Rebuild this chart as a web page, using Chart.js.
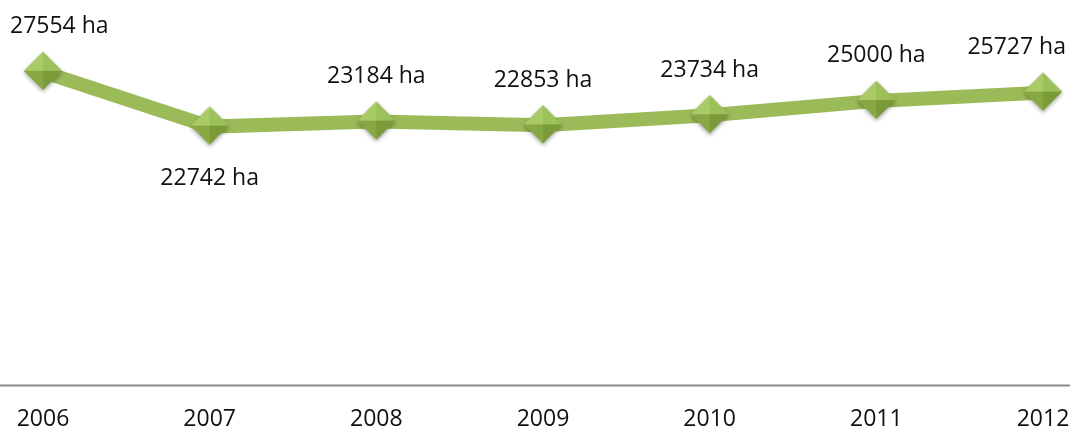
<!DOCTYPE html>
<html>
<head>
<meta charset="utf-8">
<script src="https://cdn.jsdelivr.net/npm/chart.js@4.4.0/dist/chart.umd.min.js"></script>
<style>
  body { margin: 0; background: #fff; }
  .chart-box { width: 1070px; height: 432px; position: relative; }
</style>
</head>
<body>
<div class="chart-box"><canvas id="myCourbe"></canvas></div>
<script>
const annees = ['2006', '2007', '2008', '2009', '2010', '2011', '2012'];
const surfaces = [27554, 22742, 23184, 22853, 23734, 25000, 25727];
const unite = ' ha';
// labels sous le point (sinon au-dessus)
const labelsDessous = [false, true, false, false, false, false, false];

const vert = '#9bbb59';
const police = '"Open Sans", sans-serif';

// losange avec relief (comme excel)
function makeDiamond(r) {
    const c = document.createElement('canvas');
    const s = r * 2 + 8;
    c.width = s;
    c.height = s;
    const ctx = c.getContext('2d');
    const cx = s / 2, cy = s / 2 - 1;
    ctx.save();
    ctx.shadowColor = 'rgba(0,0,0,0.35)';
    ctx.shadowBlur = 4;
    ctx.shadowOffsetY = 2;
    ctx.beginPath();
    ctx.moveTo(cx, cy - r);
    ctx.lineTo(cx + r, cy);
    ctx.lineTo(cx, cy + r);
    ctx.lineTo(cx - r, cy);
    ctx.closePath();
    ctx.fillStyle = '#8fb04c';
    ctx.fill();
    ctx.restore();
    const facettes = [
        [[cx, cy - r], [cx - r, cy], '#a9cb66'],
        [[cx, cy - r], [cx + r, cy], '#9cc05a'],
        [[cx + r, cy], [cx, cy + r], '#7b9a38'],
        [[cx - r, cy], [cx, cy + r], '#88a843']
    ];
    facettes.forEach(function(f) {
        ctx.beginPath();
        ctx.moveTo(cx, cy);
        ctx.lineTo(f[0][0], f[0][1]);
        ctx.lineTo(f[1][0], f[1][1]);
        ctx.closePath();
        ctx.fillStyle = f[2];
        ctx.fill();
    });
    return c;
}
const losange = makeDiamond(19);

// ligne de l'axe sur toute la largeur + etiquettes
const extras = {
    id: 'extras',
    beforeDatasetsDraw(chart) {
        const ctx = chart.ctx;
        const y = Math.round(chart.scales.y.getPixelForValue(0)) + 0.5;
        ctx.save();
        ctx.strokeStyle = '#8c8c8c';
        ctx.lineWidth = 2;
        ctx.beginPath();
        ctx.moveTo(0, y);
        ctx.lineTo(chart.width, y);
        ctx.stroke();
        ctx.restore();
    },
    afterDatasetsDraw(chart) {
        const ctx = chart.ctx;
        const meta = chart.getDatasetMeta(0);
        ctx.save();
        ctx.font = '23px ' + police;
        ctx.fillStyle = '#111';
        ctx.textAlign = 'center';
        ctx.textBaseline = 'middle';
        meta.data.forEach(function(pt, i) {
            const txt = surfaces[i] + unite;
            const w = ctx.measureText(txt).width;
            let x = pt.x;
            x = Math.max(x, w / 2 + 10);
            x = Math.min(x, chart.width - w / 2 - 4);
            const y = labelsDessous[i] ? pt.y + 52 : pt.y - 45;
            ctx.fillText(txt, x, y);
        });
        ctx.restore();
    }
};

new Chart(document.getElementById('myCourbe'), {
    type: 'line',
    data: {
        labels: annees,
        datasets: [{
            data: surfaces,
            borderColor: vert,
            borderWidth: 14,
            pointStyle: losange,
            pointRadius: 19,
            pointHoverRadius: 19,
            tension: 0
        }]
    },
    options: {
        responsive: true,
        maintainAspectRatio: false,
        animation: false,
        layout: { autoPadding: false, padding: { left: 43, right: 27, top: 44, bottom: -21 } },
        plugins: {
            legend: { display: false },
            tooltip: { enabled: false }
        },
        scales: {
            x: {
                offset: false,
                grid: { display: false, drawTicks: false, tickLength: 0 },
                border: { display: false },
                ticks: {
                    padding: 20,
                    color: '#111',
                    maxRotation: 0,
                    autoSkip: false,
                    font: { family: police, size: 23 }
                },
                afterFit: function(scale) {
                    scale.paddingLeft = 0;
                    scale.paddingRight = 0;
                }
            },
            y: {
                display: false,
                min: 0,
                max: 30000
            }
        }
    },
    plugins: [extras]
});
</script>
</body>
</html>
